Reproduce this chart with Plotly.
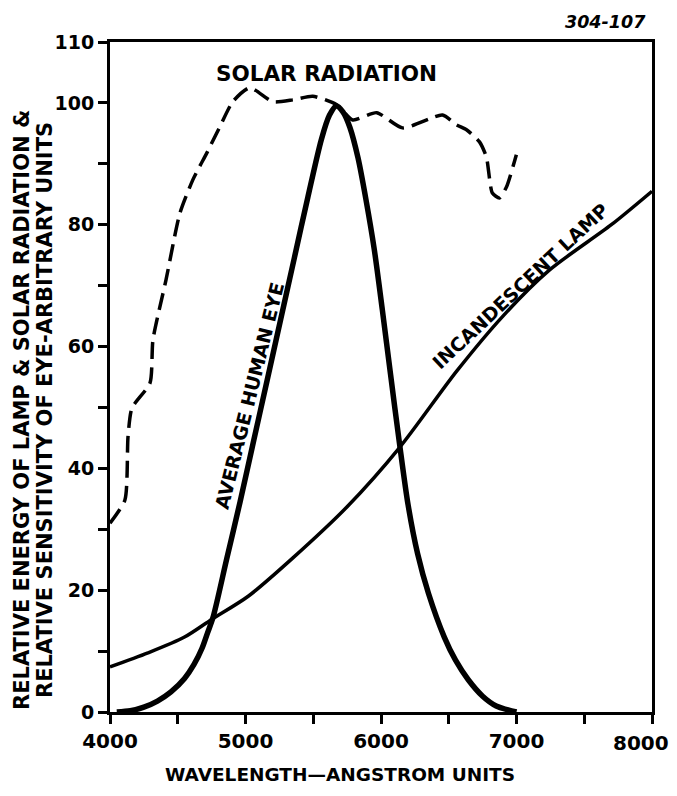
import plotly.graph_objects as go

# ---- data ----
solar_x = [4000, 4110, 4133, 4162, 4295, 4317, 4413, 4516, 4612, 4715, 4811, 4906, 5032,
           5201, 5349, 5496, 5673, 5791, 5968, 6159, 6454, 6557, 6631, 6727, 6778, 6822,
           6874, 6926, 6999]
solar_y = [31, 34.8, 45.2, 49.9, 54.0, 61.1, 70.9, 81.9, 87.4, 91.8, 96.1, 100.2, 102.5,
           100.2, 100.5, 101.1, 99.7, 97.2, 98.4, 95.9, 98.0, 96.4, 95.6, 93.6, 91.1, 85.2,
           84.4, 86.2, 91.5]

eye_x = [4050, 4150, 4250, 4350, 4450, 4550, 4620, 4680, 4720, 4760, 4860, 4960, 5060,
         5160, 5260, 5360, 5460, 5560, 5620, 5670, 5720, 5770, 5830, 5890, 5950, 6010,
         6070, 6137, 6200, 6270, 6350, 6467, 6550, 6644, 6750, 6850, 7000]
eye_y = [0, 0.2, 0.8, 1.8, 3.3, 5.5, 7.8, 10.5, 13, 15.5, 25, 34.5, 44.5,
         54.5, 64.5, 74.5, 84.5, 94, 98, 99.5, 98.5, 96, 91, 84, 76, 66,
         55.5, 44, 34, 26, 19.5, 12.3, 8.5, 5.3, 2.6, 1, 0]

lamp_x = [4000, 4280, 4550, 4750, 5020, 5350, 5750, 6140, 6560, 6900, 7240, 7700, 8000]
lamp_y = [7.4, 9.7, 12.3, 15.2, 19, 25.3, 33.7, 43.5, 56, 65, 72.5, 80, 85.5]

y_tickvals = [0, 10, 20, 30, 40, 50, 60, 70, 80, 90, 100, 110]
y_ticktext = ["0", "", "20", "", "40", "", "60", "", "80", "", "100", "110"]
x_tickvals = [4000, 4500, 5000, 5500, 6000, 6500, 7000, 7500, 8000]
x_ticktext = ["4000", "", "5000", "", "6000", "", "7000", "", ""]
last_x_label = "8000"   # drawn as an annotation so it stays inside the page

FONT = "DejaVu Sans"

fig = go.Figure()
fig.add_trace(go.Scatter(x=solar_x, y=solar_y, mode="lines",
                         line=dict(color="black", width=3.5, dash="17px,8px", shape="spline", smoothing=0.6),
                         hoverinfo="skip"))
fig.add_trace(go.Scatter(x=lamp_x, y=lamp_y, mode="lines",
                         line=dict(color="black", width=3.5, shape="spline", smoothing=0.8),
                         hoverinfo="skip"))
fig.add_trace(go.Scatter(x=eye_x, y=eye_y, mode="lines",
                         line=dict(color="black", width=5.5, shape="spline", smoothing=0.8),
                         hoverinfo="skip"))

def bold(size):
    return dict(family=FONT, size=size, color="black", weight="bold")

fig.add_annotation(x=5600, y=104.9, xref="x", yref="y", text="SOLAR RADIATION",
                   showarrow=False, xanchor="center", yanchor="middle", font=bold(21.5))
fig.add_annotation(x=5032, y=52, xref="x", yref="y", text="AVERAGE HUMAN EYE",
                   showarrow=False, textangle=-76, xanchor="center", yanchor="middle", font=bold(19))
fig.add_annotation(x=7026, y=70, xref="x", yref="y", text="INCANDESCENT LAMP",
                   showarrow=False, textangle=-43, xanchor="center", yanchor="middle", font=bold(19))

# last x tick label, nudged left as in the reference
fig.add_annotation(x=x_tickvals[-1], y=-0.0463, xref="x", yref="paper", xshift=-11,
                   text=last_x_label, showarrow=False, xanchor="center", yanchor="middle",
                   font=bold(20))

# axis titles
fig.add_annotation(x=0.424, y=-0.094, xref="paper", yref="paper",
                   text="WAVELENGTH\u2014ANGSTROM UNITS", showarrow=False,
                   xanchor="center", yanchor="middle", font=bold(18.5))
fig.add_annotation(x=-0.1624, y=0.4507, xref="paper", yref="paper",
                   text="RELATIVE ENERGY OF LAMP &amp; SOLAR RADIATION &amp;",
                   showarrow=False, textangle=-90, xanchor="center", yanchor="middle",
                   font=bold(21))
fig.add_annotation(x=-0.1199, y=0.4507, xref="paper", yref="paper",
                   text="RELATIVE SENSITIVITY OF EYE-ARBITRARY UNITS",
                   showarrow=False, textangle=-90, xanchor="center", yanchor="middle",
                   font=bold(21))
fig.add_annotation(x=0.9926, y=1.0299, xref="paper", yref="paper", xanchor="right", yanchor="middle",
                   text="<i>304-107</i>", showarrow=False, font=bold(17.5))

axis_common = dict(showgrid=False, zeroline=False, showline=True, linecolor="black",
                   linewidth=3, mirror=True, ticks="outside", ticklen=9, tickwidth=2.5,
                   tickcolor="black", automargin=False)

fig.update_xaxes(range=[4000, 8000], tickmode="array", tickvals=x_tickvals,
                 ticktext=x_ticktext, tickfont=bold(20), **axis_common)
fig.update_yaxes(range=[0, 110], tickmode="array", tickvals=y_tickvals,
                 ticktext=y_ticktext, tickfont=bold(19), **axis_common)

# page body has an 8px default margin, so the figure is sized to fill the rest
fig.update_layout(width=669, height=788, showlegend=False,
                  plot_bgcolor="white", paper_bgcolor="white",
                  margin=dict(l=102, r=25, t=34, b=84),
                  hovermode=False)

fig.write_html("out.html", config={"displayModeBar": False})
